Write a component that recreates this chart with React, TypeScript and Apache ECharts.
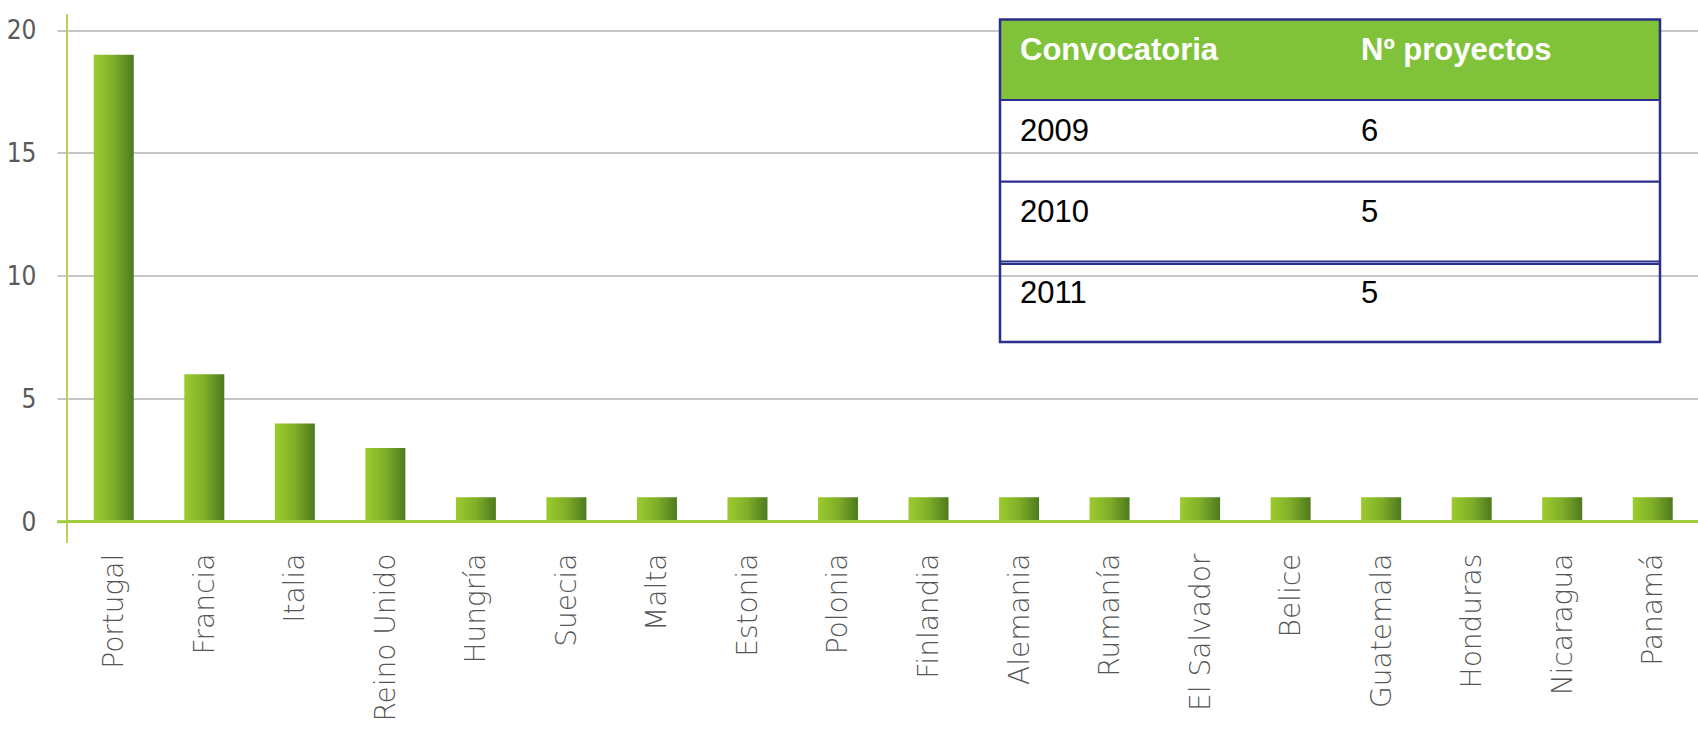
import React, { useEffect, useRef } from "react";
import * as echarts from "echarts";

const categories = [
  "Portugal", "Francia", "Italia", "Reino Unido", "Hungría", "Suecia", "Malta", "Estonia", "Polonia",
  "Finlandia", "Alemania", "Rumanía", "El Salvador", "Belice", "Guatemala", "Honduras", "Nicaragua", "Panamá",
];
const values = [19, 6, 4, 3, 1, 1, 1, 1, 1, 1, 1, 1, 1, 1, 1, 1, 1, 1];

const tableHeader = ["Convocatoria", "Nº proyectos"];
const tableYears = ["2009", "2010", "2011"];
const tableCounts = [6, 5, 5];

const W = 1698;
const H = 729;

export default function App() {
  const ref = useRef<HTMLDivElement>(null);

  useEffect(() => {
    document.body.style.margin = "0";
    if (!ref.current) return;
    const chart = echarts.init(ref.current, undefined, { renderer: "svg" });

    const navy = "#2b2f8c";
    const tx1 = 1000, tx2 = 1660;
    const rowCenters = [130, 211.5, 292.5];
    const graphics: any[] = [];
    graphics.push({
      type: "line", z: 50,
      shape: { x1: 67, y1: 14, x2: 67, y2: 543 },
      style: { stroke: "#b4d55c", lineWidth: 2 },
    });
    graphics.push({
      type: "line", z: 50,
      shape: { x1: 57, y1: 521.7, x2: 70, y2: 521.7 },
      style: { stroke: "#9fcb3c", lineWidth: 3 },
    });
    graphics.push({
      type: "rect", z: 100,
      shape: { x: tx1, y: 19.5, width: tx2 - tx1, height: 80.5 },
      style: { fill: "#80c33a" },
    });
    graphics.push({
      type: "rect", z: 101,
      shape: { x: tx1, y: 19.5, width: tx2 - tx1, height: 322.5 },
      style: { fill: "none", stroke: navy, lineWidth: 2.5 },
    });
    [100, 181.7, 261.5, 264].forEach((yy) => {
      graphics.push({
        type: "line", z: 101,
        shape: { x1: tx1, y1: yy, x2: tx2, y2: yy },
        style: { stroke: navy, lineWidth: 2.2 },
      });
    });
    tableHeader.forEach((h, i) => {
      graphics.push({
        type: "text", z: 102, x: i === 0 ? 1020 : 1361, y: 49,
        style: { text: h, fill: "#ffffff", fontSize: 31, fontWeight: "bold", fontFamily: "'Liberation Sans', Arial, sans-serif", verticalAlign: "middle" },
      });
    });
    tableYears.forEach((yr, i) => {
      graphics.push({
        type: "text", z: 102, x: 1020, y: rowCenters[i],
        style: { text: yr, fill: "#000000", fontSize: 31, fontFamily: "'Liberation Sans', Arial, sans-serif", verticalAlign: "middle" },
      });
      graphics.push({
        type: "text", z: 102, x: 1361, y: rowCenters[i],
        style: { text: String(tableCounts[i]), fill: "#000000", fontSize: 31, fontFamily: "'Liberation Sans', Arial, sans-serif", verticalAlign: "middle" },
      });
    });

    chart.setOption({
      animation: false,
      backgroundColor: "#ffffff",
      grid: { left: 68.5, top: 30.3, width: 1644, height: 491.4, containLabel: false },
      xAxis: {
        type: "category",
        data: categories,
        axisLine: { show: true, lineStyle: { color: "#9fcb3c", width: 3 } },
        axisTick: { show: false },
        axisLabel: {
          interval: 0,
          rotate: 90,
          margin: 32,
          fontSize: 28,
          fontWeight: 200,
          fontFamily: "'DejaVu Sans', sans-serif",
          color: "#555555",
        },
        z: 5,
      },
      yAxis: {
        type: "value",
        min: 0,
        max: 20,
        interval: 5,
        axisLine: { show: false },
        axisTick: { show: true, length: 11, lineStyle: { color: "#b3b3b3", width: 1.5 } },
        splitLine: { show: true, lineStyle: { color: "#b3b3b3", width: 1.5 } },
        axisLabel: {
          margin: 32,
          fontSize: 26,
          fontFamily: "'Liberation Sans Narrow', 'DejaVu Sans Condensed', sans-serif",
          color: "#5a5a5a",
          padding: [0, 0, 6, 0],
        },
      },
      series: [
        {
          type: "bar",
          data: values,
          barWidth: 40,
          z: 3,
          itemStyle: {
            color: new echarts.graphic.LinearGradient(0, 0, 1, 0, [
              { offset: 0, color: "#9ccb2e" },
              { offset: 0.5, color: "#7fae28" },
              { offset: 1, color: "#4d7a1e" },
            ]),
          },
        },
      ],
      graphic: graphics,
    });

    return () => chart.dispose();
  }, []);

  return <div ref={ref} style={{ position: "fixed", left: 0, top: 0, width: W, height: H }} />;
}
